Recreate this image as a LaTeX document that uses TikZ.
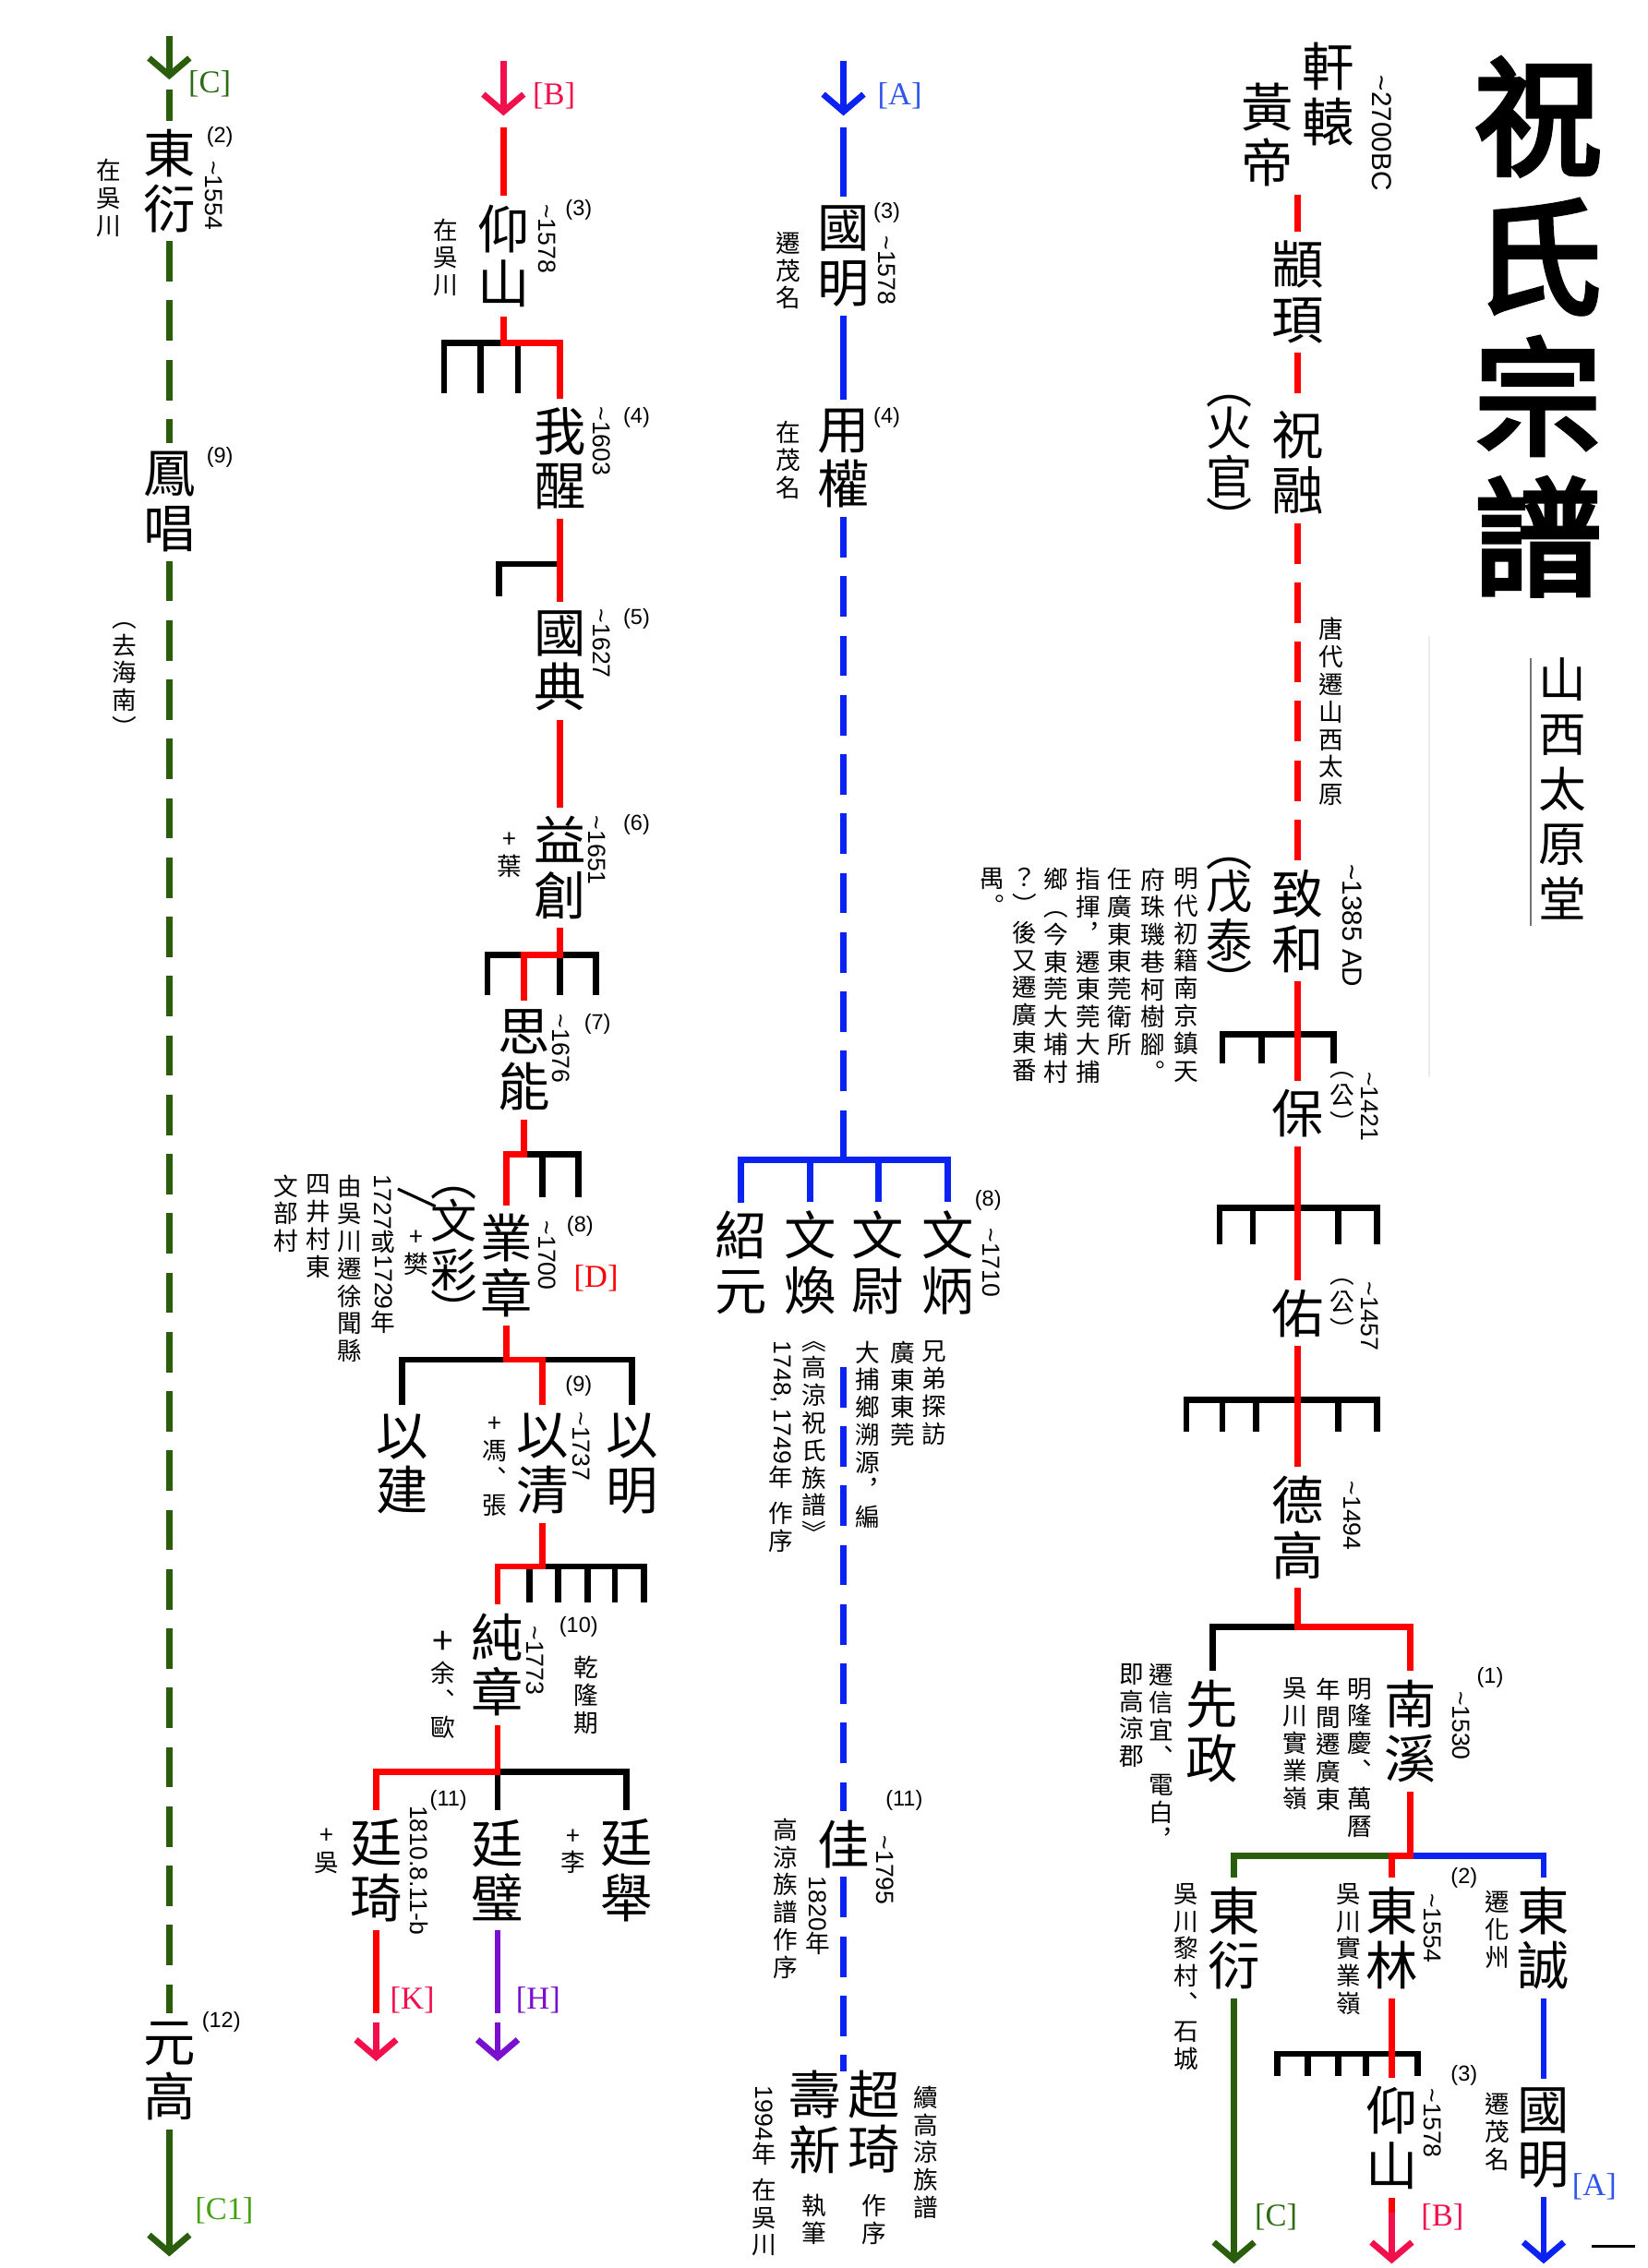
\documentclass[tikz,border=0pt]{standalone}
\usepackage{fontspec}
\setmainfont{Noto Sans CJK TC}
\newfontfamily\arialfont{Liberation Sans}
\newfontfamily\serifont{Liberation Serif}
\newfontfamily\brushfont{Noto Sans CJK TC}[FakeBold=4]
\usetikzlibrary{arrows.meta}
\definecolor{cred}{HTML}{FF0000}
\definecolor{ccrim}{HTML}{F2104C}
\definecolor{cblue}{HTML}{0A22F2}
\definecolor{ctagblue}{HTML}{2F55EE}
\definecolor{cgreen}{HTML}{2A5E0C}
\definecolor{ctaggreen}{HTML}{2E6B12}
\definecolor{clime}{HTML}{44A012}
\definecolor{cpurple}{HTML}{7A0FCF}
\newcommand{\vp}[1]{\rotatebox[origin=c]{-90}{#1}}
\tikzset{
  every picture/.style={line width=4.3pt, line join=miter},
  nm/.style={font=\fontsize{36}{38}\selectfont, align=center, inner sep=4pt},
  pn/.style={font=\fontsize{32}{34}\selectfont, align=center, inner sep=2pt},
  nt/.style={font=\fontsize{17}{19}\selectfont, align=center, inner sep=0pt},
  gen/.style={font=\arialfont\fontsize{15}{16}\selectfont, inner sep=0pt},
  yr/.style={font=\arialfont\fontsize{17}{18}\selectfont, rotate=-90, inner sep=0pt},
  tag/.style={font=\serifont\fontsize{22}{24}\selectfont, text=#1, inner sep=0pt},
  ttl/.style={font=\brushfont\fontsize{88}{97}\selectfont, align=center, inner sep=0pt},
  sub/.style={font=\fontsize{33}{38}\selectfont, align=center, inner sep=0pt},
  blk/.style={draw=black},
  rl/.style={draw=cred},
  cr/.style={draw=ccrim},
  bl/.style={draw=cblue},
  gl/.style={draw=cgreen},
  pl/.style={draw=cpurple},
  dsh/.style={dash pattern=on 28pt off 13pt},
  arr/.style={-{Straight Barb[length=12pt,width=28pt]}},
}
\begin{document}
\begin{tikzpicture}[x=1pt, y=-1pt]
\useasboundingbox (0,0) rectangle (1139,1568);

% title
\node[ttl] (tt) at (1063,226) {祝\\氏\\宗\\譜};
\node[sub] (tang) at (1080,545) {山\\西\\太\\原\\堂};
\draw[black!55, line width=1.2pt] (1058,455) -- (1058,640);
\draw[black!8, line width=1pt] (988,440) -- (988,745);

% right: main line down to 南溪
\node[nm] (xy) at (918,65) {軒\\轅};
\node[nm] (hd) at (876,93) {黃\\帝};
\node[yr, font=\arialfont\fontsize{19}{20}\selectfont] (bc) at (955,92) {\textasciitilde 2700BC};
\node[nm] (zx) at (897,202) {顓\\頊};
\node[nm] (zr) at (897,320) {祝\\融};
\node[pn] (hg) at (850,322) {︵\\[-5pt]火\\官\\[-5pt]︶};
\node[nt] (td) at (920,492) {唐\\代\\遷\\山\\西\\太\\原};
\node[nm] (zh) at (897,637) {致\\和};
\node[yr, font=\arialfont\fontsize{19}{20}\selectfont] (ad) at (935,640) {\textasciitilde 1385 AD};
\node[pn] (wt) at (850,642) {︵\\[-5pt]戊\\泰\\[-5pt]︶};
\node[nt, anchor=north] (m1) at (820,598) {明\\代\\初\\籍\\南\\京\\鎮\\天};
\node[nt, anchor=north] (m2) at (797,598) {府\\珠\\璣\\巷\\柯\\樹\\腳\\︒};
\node[nt, anchor=north] (m3) at (774,598) {任\\廣\\東\\東\\莞\\衛\\所};
\node[nt, anchor=north] (m4) at (752,598) {指\\揮\\︐\\遷\\東\\莞\\大\\捕};
\node[nt, anchor=north] (m5) at (730,598) {鄉\\︵\\今\\東\\莞\\大\\埔\\村};
\node[nt, anchor=north] (m6) at (708,598) {？\\︶\\後\\又\\遷\\廣\\東\\番};
\node[nt, anchor=north] (m7) at (686,598) {禺\\︒};
\node[nm] (bao) at (897,770) {保};
\node[nt] (bg) at (928,762) {︵\\公\\︶};
\node[yr] (by) at (947,765) {\textasciitilde 1421};
\node[nm] (you) at (897,908) {佑};
\node[nt] (yg2) at (928,905) {︵\\公\\︶};
\node[yr] (yy) at (947,910) {\textasciitilde 1457};
\node[nm] (dg) at (897,1056) {德\\高};
\node[yr] (dgy) at (935,1048) {\textasciitilde 1494};

\draw[rl, dsh] (zx.north |- hd.south) -- (zx.north);
\draw[rl, dsh] (zx.south) -- (zr.north);
\draw[rl, dsh] (zr.south) -- (zh.north);
\draw[blk] (845,735) |- (922,715) -- (922,735);
\draw[blk] (872,715) -- (872,735);
\draw[rl] (zh.south) -- (bao.north);
\draw[blk] (843,860) |- (952,835) -- (952,860);
\foreach \x in {866,925} \draw[blk] (\x,835) -- (\x,860);
\draw[rl] (bao.south) -- (you.north);
\draw[blk] (820,990) |- (952,968) -- (952,990);
\foreach \x in {845,868,925} \draw[blk] (\x,968) -- (\x,990);
\draw[rl] (you.south) -- (dg.north);

% right: 南溪 and sons
\node[nm] (xz) at (838,1197) {先\\政};
\node[nt, anchor=north] (xz1) at (803,1148) {遷\\信\\宜\\︑\\電\\白\\︐};
\node[nt, anchor=north] (xz2) at (782,1148) {即\\高\\涼\\郡};
\node[nm] (nx) at (975,1197) {南\\溪};
\node[yr] (nxy) at (1010,1193) {\textasciitilde 1530};
\node[gen] (nxg) at (1030,1160) {(1)};
\node[nt, anchor=north] (nx1) at (940,1158) {明\\隆\\慶\\︑\\萬\\曆};
\node[nt, anchor=north] (nx2) at (918,1158) {年\\間\\遷\\廣\\東};
\node[nt, anchor=north] (nx3) at (895,1158) {吳\\川\\實\\業\\嶺};
\draw[blk] (dg.south |- 0,1125) -| (xz.north);
\draw[rl] (dg.south) -- (dg.south |- 0,1125) -| (nx.north);

\node[nm] (dy) at (853,1340) {東\\衍};
\node[nt, anchor=north] (dy1) at (820,1300) {吳\\川\\黎\\村\\︑\\石\\城};
\node[nm] (dl) at (962,1340) {東\\林};
\node[nt, anchor=north] (dl1) at (932,1300) {吳\\川\\實\\業\\嶺};
\node[yr] (dly) at (990,1333) {\textasciitilde 1554};
\node[gen] (dlg) at (1012,1298) {(2)};
\node[nm] (dc) at (1067,1340) {東\\誠};
\node[nt, anchor=north] (dc1) at (1035,1305) {遷\\化\\州};
\draw[gl] (dl.north |- 0,1283) -| (dy.north);
\draw[bl] (nx.south |- 0,1283) -| (dc.north);
\draw[rl] (nx.south) -- (nx.south |- 0,1283) -| (dl.north);

\node[nm] (ys2) at (962,1478) {仰\\山};
\node[yr] (ys2y) at (990,1468) {\textasciitilde 1578};
\node[gen] (ys2g) at (1012,1435) {(3)};
\node[nm] (gm2) at (1067,1478) {國\\明};
\node[nt, anchor=north] (gm2a) at (1035,1445) {遷\\茂\\名};
\node[tag=ctaggreen] (tC2) at (882,1533) {[C]};
\node[tag=ccrim] (tB2) at (997,1533) {[B]};
\node[tag=ctagblue] (tA2) at (1102,1512) {[A]};
\coordinate (eC) at (853,1565);
\coordinate (mB) at (962,1530);
\coordinate (eB) at (962,1565);
\coordinate (eA) at (1067,1565);
\draw[gl, arr] (dy.south) -- (eC);
\draw[blk] (883,1435) |- (980,1420) -- (980,1435);
\foreach \x in {904,925,944} \draw[blk] (\x,1420) -- (\x,1435);
\draw[rl] (dl.south) -- (ys2.north);
\draw[rl] (ys2.south) -- (mB);
\draw[cr, arr] (mB) -- (eB);
\draw[bl] (dc.south) -- (gm2.north);
\draw[bl, arr] (gm2.south) -- (eA);
\draw[blk, line width=2.5pt] (1100,1553) -- (1130,1553);

% column A
\coordinate (aT) at (583,42);
\coordinate (aH) at (583,80);
\coordinate (aS) at (583,88);
\node[tag=ctagblue] (tA) at (622,66) {[A]};
\draw[bl, arr] (aT) -- (aH);
\node[nm] (gm) at (583,177) {國\\明};
\node[gen] (gmg) at (613,147) {(3)};
\node[yr] (gmy) at (613,187) {\textasciitilde 1578};
\node[nt] (gmn) at (545,187) {遷\\茂\\名};
\draw[bl] (aS) -- (gm.north);
\node[nm] (yq) at (583,317) {用\\權};
\node[gen] (yqg) at (613,289) {(4)};
\node[nt] (yqn) at (545,318) {在\\茂\\名};
\draw[bl] (gm.south) -- (yq.north);
\coordinate (aM) at (583,768);
\draw[bl, dsh] (yq.south) -- (aM);
\node[nm] (sy) at (512,873) {紹\\元};
\node[nm] (wh) at (560,873) {文\\煥};
\node[nm] (wy) at (607,873) {文\\尉};
\node[nm] (wb) at (655,873) {文\\炳};
\node[gen] (wbg) at (683,830) {(8)};
\node[yr] (wby) at (685,873) {\textasciitilde 1710};
\foreach \n in {sy,wh,wy,wb} \draw[bl] (aM) -- (aM |- 0,802) -| (\n.north);
\node[nt, anchor=north] (ab1) at (646,925) {兄\\弟\\探\\訪};
\node[nt, anchor=north] (ab2) at (624,925) {廣\\東\\東\\莞};
\node[nt, anchor=north] (ab3) at (600,925) {大\\捕\\鄉\\溯\\源\\︐\\編};
\node[nt, anchor=north] (ab4) at (563,925) {︽\\高\\涼\\祝\\氏\\族\\譜\\︾};
\node[nt, anchor=north] (ab5) at (540,925) {\vp{\arialfont 1748, 1749}\\年\\[6pt]作\\序};
\coordinate (aL) at (583,945);
\node[nm] (jia) at (583,1275) {佳};
\node[gen] (jiag) at (625,1245) {(11)};
\node[yr] (jiay) at (612,1293) {\textasciitilde 1795};
\node[nt, anchor=north] (jia1) at (543,1255) {高\\涼\\族\\譜\\作\\序};
\node[nt, anchor=north] (jia2) at (565,1295) {\vp{\arialfont 1820}\\年};
\draw[bl, dsh] (aL) -- (jia.north);
\coordinate (aE) at (583,1432);
\draw[bl, dsh] (jia.south) -- (aE);
\node[nm] (sx) at (563,1467) {壽\\新};
\node[nm] (cq) at (604,1467) {超\\琦};
\node[nt, anchor=north] (sx1) at (528,1440) {\vp{\arialfont 1994}\\年\\[6pt]在\\吳\\川};
\node[nt, anchor=north] (sx2) at (563,1515) {執\\筆};
\node[nt, anchor=north] (cq1) at (604,1515) {作\\序};
\node[nt, anchor=north] (cq2) at (640,1440) {續\\高\\涼\\族\\譜};

% column B
\coordinate (bT) at (348,42);
\coordinate (bH) at (348,80);
\coordinate (bS) at (348,88);
\node[tag=ccrim] (tB) at (383,66) {[B]};
\draw[cr, arr] (bT) -- (bH);
\node[nm] (ys) at (348,177) {仰\\山};
\node[yr] (ysy) at (378,165) {\textasciitilde 1578};
\node[gen] (ysg) at (400,145) {(3)};
\node[nt] (ysn) at (308,178) {在\\吳\\川};
\draw[rl] (bS) -- (ys.north);
\node[nm] (wx) at (387,317) {我\\醒};
\node[yr] (wxy) at (416,305) {\textasciitilde 1603};
\node[gen] (wxg) at (440,289) {(4)};
\draw[blk] (307,272) |- (358,237) -- (358,272);
\draw[blk] (332,237) -- (332,272);
\draw[rl] (ys.south) -- (ys.south |- 0,237) -| (wx.north);
\node[nm] (gd) at (387,457) {國\\典};
\node[yr] (gdy) at (416,445) {\textasciitilde 1627};
\node[gen] (gdg) at (440,428) {(5)};
\draw[blk] (wx.south |- 0,390) -| (345,412);
\draw[rl] (wx.south) -- (gd.north);
\node[nm] (yc) at (387,600) {益\\創};
\node[yr] (ycy) at (413,588) {\textasciitilde 1651};
\node[gen] (ycg) at (440,570) {(6)};
\node[nt] (ycn) at (352,591) {+\\葉};
\draw[rl] (gd.south) -- (yc.north);
\node[nm] (sn) at (362,733) {思\\能};
\node[yr] (sny) at (388,725) {\textasciitilde 1676};
\node[gen] (sng) at (413,708) {(7)};
\draw[blk] (337,688) |- (412,660) -- (412,688);
\draw[blk] (387,660) -- (387,688);
\draw[rl] (yc.south) -- (yc.south |- 0,660) -| (sn.north);
\node[nm] (yz) at (350,875) {業\\章};
\node[pn] (wc) at (314,870) {︵\\[-5pt]文\\彩\\[-5pt]︶};
\node[yr] (yzy) at (378,868) {\textasciitilde 1700};
\node[gen] (yzg) at (401,848) {(8)};
\node[tag=cred] (tD) at (412,884) {[D]};
\node[nt] (yzn) at (288,866) {+\\樊};
\coordinate (sl1) at (275,822);
\coordinate (sl2) at (301,834);
\draw[blk, line width=2pt] (sl1) -- (sl2);
\node[nt, anchor=north] (yz1) at (265,810) {\vp{\arialfont 1727}\\或\\\vp{\arialfont 1729}\\年};
\node[nt, anchor=north] (yz2) at (242,810) {由\\吳\\川\\遷\\徐\\聞\\縣};
\node[nt, anchor=north] (yz3) at (220,810) {四\\井\\村\\東};
\node[nt, anchor=north] (yz4) at (198,810) {文\\部\\村};
\draw[blk] (sn.south |- 0,798) -| (400,828);
\draw[blk] (375,798) -- (375,828);
\draw[rl] (sn.south) -- (sn.south |- 0,798) -| (yz.north);

\node[nm] (yj) at (278,1012) {以\\建};
\node[nm] (yq2) at (375,1012) {以\\清};
\node[nm] (ym) at (437,1012) {以\\明};
\node[yr] (yq2y) at (402,1000) {\textasciitilde 1737};
\node[gen] (yq2g) at (400,958) {(9)};
\node[nt] (yq2n) at (342,1014) {+\\馮\\︑\\張};
\draw[blk] (yz.south |- 0,940) -| (yj.north);
\draw[blk] (yz.south |- 0,940) -| (ym.north);
\draw[rl] (yz.south) -- (yz.south |- 0,940) -| (yq2.north);

\node[nm] (cz) at (344,1151) {純\\章};
\node[yr] (czy) at (370,1148) {\textasciitilde 1773};
\node[gen] (czg) at (400,1125) {(10)};
\node[nt] (czn) at (405,1172) {乾\\隆\\期};
\node[nt] (czp) at (306,1165) {{\fontsize{26}{26}\selectfont +}\\余\\︑\\歐};
\draw[blk] (yq2.south |- 0,1083) -| (445,1108);
\foreach \x in {366,386,406,425} \draw[blk] (\x,1083) -- (\x,1108);
\draw[rl] (yq2.south) -- (yq2.south |- 0,1083) -| (cz.north);

\node[nm] (tq) at (260,1293) {廷\\琦};
\node[nm] (tb) at (344,1293) {廷\\璧};
\node[nm] (tj) at (433,1293) {廷\\舉};
\node[yr] (tqy) at (290,1293) {1810.8.11-b};
\node[gen] (tqg) at (310,1245) {(11)};
\node[nt] (tqn) at (226,1280) {+\\吳};
\node[nt] (tjn) at (396,1280) {+\\李};
\draw[blk] (cz.south |- 0,1225) -- (tb.north);
\draw[blk] (cz.south |- 0,1225) -| (tj.north);
\draw[rl] (cz.south) -- (cz.south |- 0,1225) -| (tq.north);
\coordinate (kM) at (260,1392);
\coordinate (kT) at (260,1398);
\coordinate (kE) at (260,1425);
\coordinate (hM) at (344,1392);
\coordinate (hT) at (344,1398);
\coordinate (hE) at (344,1425);
\draw[rl] (tq.south) -- (kM);
\draw[cr, arr] (kT) -- (kE);
\draw[pl] (tb.south) -- (hM);
\draw[pl, arr] (hT) -- (hE);
\node[tag=ccrim] (tK) at (285,1383) {[K]};
\node[tag=cpurple] (tH) at (372,1383) {[H]};

% column C
\coordinate (cT) at (117,25);
\coordinate (cH) at (117,55);
\coordinate (cS) at (117,62);
\node[tag=ctaggreen] (tC) at (145,58) {[C]};
\draw[gl, arr] (cT) -- (cH);
\node[nm] (dy0) at (117,125) {東\\衍};
\node[gen] (dy0g) at (152,95) {(2)};
\node[yr] (dy0y) at (148,135) {\textasciitilde 1554};
\node[nt] (dy0n) at (75,137) {在\\吳\\川};
\draw[gl] (cS) -- (dy0.north);
\node[nm] (fc) at (117,347) {鳳\\唱};
\node[gen] (fcg) at (152,316) {(9)};
\draw[gl, dsh] (dy0.south) -- (fc.north);
\node[nt] (hn) at (86,470) {︵\\去\\海\\南\\︶};
\node[nm] (yg) at (117,1432) {元\\高};
\node[gen] (ygg) at (153,1398) {(12)};
\draw[gl, dsh] (fc.south) -- (yg.north);
\coordinate (cE) at (117,1560);
\draw[gl, arr] (yg.south) -- (cE);
\node[tag=clime] (tC1) at (155,1528) {[C1]};
\end{tikzpicture}
\end{document}
